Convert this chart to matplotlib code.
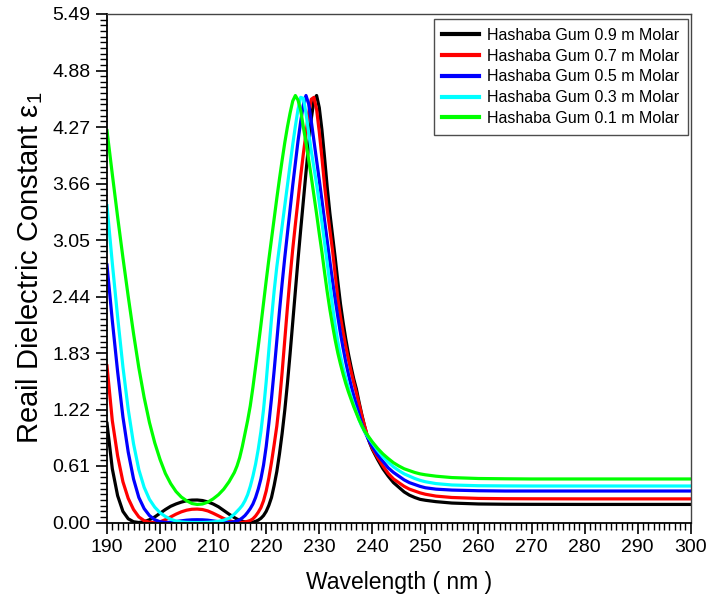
import numpy as np
import matplotlib
matplotlib.use("Agg")
import matplotlib.pyplot as plt
from matplotlib.ticker import MultipleLocator, FixedLocator

plt.rcParams['font.family'] = ['Liberation Sans', 'DejaVu Sans']
plt.rcParams['mathtext.default'] = 'regular'

# Wavelength grid (nm)
wavelength = np.concatenate([
    np.arange(190, 215, 1.0),
    np.arange(214.5, 240.5, 0.5),
    np.arange(241, 251, 1.0),
    [252, 255, 260, 265, 270, 280, 290, 300],
])

eps_09 = [
    1.07, 0.58, 0.29, 0.12, 0.04, 0.008, 0.0, 0.008, 0.03, 0.06, 0.10, 0.14, 0.175,
    0.20, 0.22, 0.235, 0.242, 0.243, 0.237, 0.222, 0.20, 0.17, 0.13, 0.09, 0.053,
    0.037, 0.025, 0.014, 0.006, 0.001, 0.0, 0.004, 0.012, 0.025, 0.045, 0.075, 0.12,
    0.185, 0.27, 0.40, 0.55, 0.74, 0.96, 1.21, 1.50, 1.82, 2.16, 2.50, 2.84, 3.16,
    3.47, 3.78, 4.08, 4.36, 4.56, 4.61, 4.48, 4.24, 3.94, 3.62, 3.34, 3.10, 2.86,
    2.60, 2.36, 2.16, 1.98, 1.82, 1.68, 1.55, 1.44, 1.30, 1.17, 1.05, 0.94, 0.86, 0.79,
    0.68, 0.58, 0.50, 0.43, 0.38, 0.33, 0.295, 0.27, 0.25, 0.24,
    0.225, 0.21, 0.20, 0.197, 0.196, 0.195, 0.195, 0.195,
]

eps_07 = [
    1.69, 1.10, 0.72, 0.44, 0.26, 0.14, 0.06, 0.02, 0.003, 0.0, 0.008, 0.03, 0.06,
    0.09, 0.115, 0.133, 0.143, 0.145, 0.14, 0.125, 0.10, 0.072, 0.043, 0.02, 0.005,
    0.001, 0.0, 0.002, 0.006, 0.013, 0.022, 0.04, 0.07, 0.11, 0.16, 0.235, 0.34,
    0.48, 0.65, 0.84, 1.04, 1.30, 1.62, 1.97, 2.32, 2.65, 2.95, 3.22, 3.48, 3.74,
    3.98, 4.20, 4.42, 4.57, 4.59, 4.46, 4.22, 3.94, 3.64, 3.38, 3.16, 2.94, 2.68,
    2.42, 2.22, 2.05, 1.90, 1.76, 1.63, 1.51, 1.40, 1.28, 1.16, 1.05, 0.95, 0.87, 0.80,
    0.70, 0.61, 0.53, 0.47, 0.43, 0.39, 0.36, 0.34, 0.32, 0.305,
    0.285, 0.27, 0.26, 0.257, 0.256, 0.255, 0.255, 0.255,
]

eps_05 = [
    2.78, 2.18, 1.63, 1.14, 0.76, 0.47, 0.27, 0.15, 0.075, 0.03, 0.008, 0.0, 0.003,
    0.01, 0.018, 0.025, 0.029, 0.03, 0.029, 0.025, 0.017, 0.009, 0.003, 0.0, 0.008,
    0.017, 0.03, 0.05, 0.075, 0.11, 0.15, 0.20, 0.27, 0.36, 0.47, 0.62, 0.82,
    1.07, 1.34, 1.64, 1.96, 2.28, 2.58, 2.86, 3.12, 3.38, 3.64, 3.88, 4.12, 4.33,
    4.51, 4.61, 4.52, 4.33, 4.12, 3.91, 3.70, 3.48, 3.26, 3.04, 2.82, 2.61, 2.41,
    2.22, 2.04, 1.88, 1.73, 1.60, 1.48, 1.37, 1.27, 1.17, 1.07, 0.99, 0.93, 0.87, 0.82,
    0.73, 0.66, 0.59, 0.54, 0.50, 0.46, 0.43, 0.41, 0.39, 0.375,
    0.36, 0.35, 0.343, 0.34, 0.34, 0.34, 0.34, 0.34,
]

eps_03 = [
    3.42, 2.80, 2.22, 1.68, 1.22, 0.85, 0.57, 0.38, 0.25, 0.165, 0.105, 0.065, 0.035,
    0.016, 0.006, 0.002, 0.0, 0.0, 0.0, 0.002, 0.006, 0.013, 0.025, 0.045, 0.09,
    0.12, 0.15, 0.185, 0.235, 0.30, 0.39, 0.50, 0.63, 0.79, 0.98, 1.22, 1.52,
    1.86, 2.20, 2.50, 2.76, 2.98, 3.20, 3.42, 3.64, 3.86, 4.08, 4.28, 4.46, 4.59,
    4.58, 4.42, 4.21, 4.01, 3.83, 3.65, 3.45, 3.24, 3.02, 2.80, 2.57, 2.34, 2.13,
    1.95, 1.80, 1.67, 1.56, 1.45, 1.36, 1.27, 1.19, 1.11, 1.04, 0.99, 0.94, 0.90, 0.86,
    0.78, 0.71, 0.65, 0.60, 0.56, 0.525, 0.50, 0.475, 0.455, 0.44,
    0.42, 0.405, 0.397, 0.395, 0.394, 0.394, 0.394, 0.394,
]

eps_01 = [
    4.23, 3.76, 3.30, 2.86, 2.44, 2.04, 1.67, 1.35, 1.08, 0.86, 0.68, 0.53, 0.42,
    0.335, 0.275, 0.235, 0.205, 0.195, 0.20, 0.22, 0.255, 0.30, 0.36, 0.44, 0.54,
    0.61, 0.70, 0.82, 0.96, 1.10, 1.26, 1.46, 1.68, 1.90, 2.13, 2.37, 2.61,
    2.84, 3.06, 3.28, 3.50, 3.71, 3.91, 4.10, 4.27, 4.42, 4.55, 4.61, 4.56, 4.45,
    4.27, 4.10, 3.92, 3.73, 3.53, 3.33, 3.12, 2.92, 2.70, 2.49, 2.30, 2.13, 1.97,
    1.83, 1.71, 1.60, 1.50, 1.41, 1.33, 1.25, 1.18, 1.11, 1.05, 0.99, 0.95, 0.91, 0.87,
    0.80, 0.74, 0.69, 0.645, 0.61, 0.58, 0.56, 0.54, 0.525, 0.515,
    0.50, 0.485, 0.475, 0.472, 0.47, 0.47, 0.47, 0.47,
]

series_labels = [
    "Hashaba Gum 0.9 m Molar",
    "Hashaba Gum 0.7 m Molar",
    "Hashaba Gum 0.5 m Molar",
    "Hashaba Gum 0.3 m Molar",
    "Hashaba Gum 0.1 m Molar",
]
series_values = [eps_09, eps_07, eps_05, eps_03, eps_01]
series_colors = ["#000000", "#ff0000", "#0000ff", "#00ffff", "#00ff00"]

x_ticks = [190, 200, 210, 220, 230, 240, 250, 260, 270, 280, 290, 300]
y_ticks = [0.00, 0.61, 1.22, 1.83, 2.44, 3.05, 3.66, 4.27, 4.88, 5.49]
y_tick_labels = ["0.00", "0.61", "1.22", "1.83", "2.44", "3.05", "3.66", "4.27", "4.88", "5.49"]

fig = plt.figure(figsize=(7.07, 6.12), dpi=100)
ax = fig.add_axes([107 / 707, 89.5 / 612, 583.7 / 707, 508.5 / 612])

for vals, lab, col in zip(series_values, series_labels, series_colors):
    ax.plot(wavelength, vals, color=col, lw=2.3, label=lab, solid_joinstyle='round')

ax.set_xlim(190, 300)
ax.set_ylim(0, 5.49)
ax.xaxis.set_major_locator(FixedLocator(x_ticks))
ax.xaxis.set_minor_locator(MultipleLocator(1))
ax.yaxis.set_major_locator(FixedLocator(y_ticks))
ax.set_yticklabels(y_tick_labels)
ax.yaxis.set_minor_locator(MultipleLocator(0.061))

ax.tick_params(axis='both', which='major', direction='out', length=8, width=1.2,
               labelsize=14, pad=4, colors='black')
ax.tick_params(axis='both', which='minor', direction='out', length=5, width=1.0)
ax.tick_params(top=False, right=False, which='both')

for side in ('left', 'bottom'):
    ax.spines[side].set_linewidth(1.3)
    ax.spines[side].set_color('black')
for side in ('top', 'right'):
    ax.spines[side].set_linewidth(1.0)
    ax.spines[side].set_color('#444444')

ax.set_xlabel("Wavelength ( nm )", fontsize=16.5, labelpad=11)
ax.set_ylabel("Reail Dielectric Constant ε$_1$", fontsize=21, labelpad=5)

leg = ax.legend(loc='upper right', bbox_to_anchor=(0.9954, 0.990), borderaxespad=0,
                fontsize=11.5, frameon=True, fancybox=False, handlelength=2.3,
                handletextpad=0.5, labelspacing=0.36, borderpad=0.55)
leg.get_frame().set_edgecolor('#222222')
leg.get_frame().set_linewidth(1.0)
for h in leg.get_lines():
    h.set_linewidth(3)

fig.savefig("out.png", dpi=100)
